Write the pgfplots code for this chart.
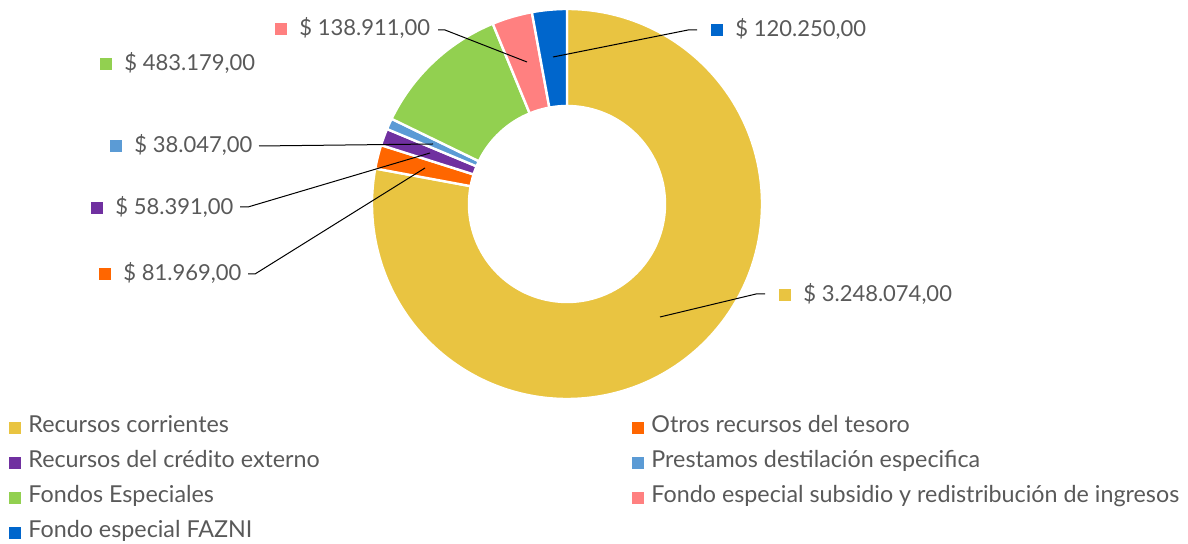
\documentclass[border=0pt]{standalone}
\usepackage{pgfplots}
\pgfplotsset{compat=1.18}
\usepackage{fontspec}
\setmainfont{Lato}

\definecolor{cRC}{HTML}{E9C441}
\definecolor{cOR}{HTML}{FF6600}
\definecolor{cCE}{HTML}{7030A0}
\definecolor{cPD}{HTML}{5B9BD5}
\definecolor{cFE}{HTML}{92D050}
\definecolor{cFS}{HTML}{FF8080}
\definecolor{cFZ}{HTML}{0066CC}
\definecolor{txt}{HTML}{595959}

% 1 px of the reference = 0.5pt
\def\Ro{97.5pt}
\def\Ri{49pt}
\def\Rw{48.5pt}
% values in thousands of $
\def\total{4168.821}

\newcommand\lab[4]{% square x, baseline y, colour, text
  \fill[#3] (axis cs:#1,#2-13) rectangle (axis cs:#1+12,#2-1);
  \node[anchor=base west,inner sep=0pt,text=txt] at (axis cs:#1+24,#2) {#4};
}
\newcommand\leg[4]{%
  \fill[#3] (axis cs:#1,#2-11) rectangle (axis cs:#1+12,#2+1);
  \node[anchor=base west,inner sep=0pt,text=txt,font=\fontsize{11.65}{14}\selectfont]
    at (axis cs:#1+19,#2) {#4};
}

\begin{document}
\begin{tikzpicture}
\begin{axis}[
    scale only axis, width=594pt, height=272pt,
    xmin=0, xmax=1188, ymin=0, ymax=544, y dir=reverse,
    hide axis, clip=false,
    font=\fontsize{11}{13}\selectfont,
  ]
  \path (axis cs:0,0) rectangle (axis cs:1188,544);
  \def\acc{90}
  \foreach \v/\c in {3248.074/cRC, 81.969/cOR, 58.391/cCE, 38.047/cPD,
                     483.179/cFE, 138.911/cFS, 120.250/cFZ}{
    \pgfmathsetmacro\a{\acc}
    \pgfmathsetmacro\b{\acc-\v/\total*360}
    \xdef\acc{\b}
    \edef\tmp{\noexpand\fill[\c,draw=white,line width=1.2pt]
      (axis cs:567,204) ++(\a:\Ro) arc[start angle=\a,end angle=\b,radius=\Ro]
      -- ++(\b+180:\Rw) arc[start angle=\b,end angle=\a,radius=\Ri] -- cycle;}
    \tmp
  }

  % leader lines
  \draw[black,line width=0.5pt] (axis cs:438,30) -- (axis cs:445,30) -- (axis cs:527,62);
  \draw[black,line width=0.5pt] (axis cs:697,30) -- (axis cs:688,30) -- (axis cs:553,57);
  \draw[black,line width=0.5pt] (axis cs:259,146) -- (axis cs:433,144);
  \draw[black,line width=0.5pt] (axis cs:240,207) -- (axis cs:248,207) -- (axis cs:430,153);
  \draw[black,line width=0.5pt] (axis cs:248,274) -- (axis cs:255,274) -- (axis cs:425,168);
  \draw[black,line width=0.5pt] (axis cs:765,294) -- (axis cs:756,294) -- (axis cs:660,317);

  % data labels
  \lab{275}{36}{cFS}{\$ 138.911,00}
  \lab{711}{37}{cFZ}{\$ 120.250,00}
  \lab{100}{71}{cFE}{\$ 483.179,00}
  \lab{110}{153}{cPD}{\$ 38.047,00}
  \lab{91}{215}{cCE}{\$ 58.391,00}
  \lab{99}{281}{cOR}{\$ 81.969,00}
  \lab{779}{302}{cRC}{\$ 3.248.074,00}

  % legend
  \leg{9}{433}{cRC}{Recursos corrientes}
  \leg{9}{468}{cCE}{Recursos del crédito externo}
  \leg{9}{503}{cFE}{Fondos Especiales}
  \leg{9}{538}{cFZ}{Fondo especial FAZNI}
  \leg{632}{433}{cOR}{Otros recursos del tesoro}
  \leg{632}{468}{cPD}{Prestamos destilación especifica}
  \leg{632}{503}{cFS}{Fondo especial subsidio y redistribución de ingresos}
\end{axis}
\end{tikzpicture}
\end{document}
